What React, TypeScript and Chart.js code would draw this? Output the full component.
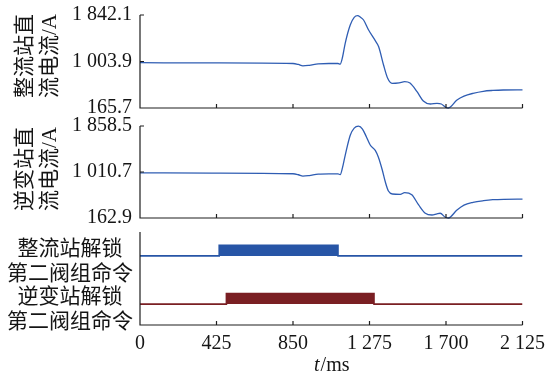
import React, { useEffect, useRef } from "react";
import { Chart, registerables } from "chart.js";

Chart.register(...registerables);

// ---------- data ----------
const xTickValues = [0, 425, 850, 1275, 1700, 2125];

const rectifierTime = [0, 400, 850, 880, 905, 940, 990, 1050, 1100, 1112, 1125, 1140, 1168, 1190, 1209, 1225, 1242, 1270, 1307, 1326, 1353, 1376, 1400, 1440, 1470, 1500, 1539, 1574, 1613, 1650, 1674, 1699, 1713, 1761, 1800, 1850, 1907, 1960, 2018, 2125];
const rectifierCurrent = [982, 978, 968, 950, 925, 935, 960, 968, 968, 955, 1080, 1332, 1662, 1800, 1830, 1800, 1752, 1572, 1379, 1271, 941, 701, 611, 620, 640, 615, 460, 292, 238, 248, 238, 177, 166, 310, 380, 430, 467, 482, 490, 492];
const rectifierTicks = [165.7, 1003.9, 1842.1];

const inverterTime = [0, 400, 850, 880, 905, 940, 990, 1050, 1100, 1112, 1125, 1140, 1168, 1190, 1214, 1236, 1258, 1279, 1307, 1324, 1346, 1363, 1380, 1402, 1446, 1470, 1510, 1548, 1585, 1622, 1650, 1668, 1696, 1713, 1761, 1800, 1850, 1909, 1960, 2020, 2125];
const inverterCurrent = [995, 990, 978, 960, 935, 945, 970, 975, 975, 962, 1090, 1318, 1687, 1820, 1855, 1803, 1656, 1508, 1410, 1287, 1047, 826, 660, 605, 600, 630, 590, 403, 250, 218, 240, 250, 176, 163, 310, 400, 450, 482, 500, 508, 510];
const inverterTicks = [162.9, 1010.7, 1858.5];

const rectifierCmdTime = [0, 440, 440, 1100, 1100, 2125];
const rectifierCmd = [0, 0, 1, 1, 0, 0];
const inverterCmdTime = [0, 480, 480, 1300, 1300, 2125];
const inverterCmd = [0, 0, 1, 1, 0, 0];

const panel1Title = ["整流站直", "流电流/A"];
const panel2Title = ["逆变站直", "流电流/A"];
const cmdLabels = [["逆变站解锁", "第二阀组命令"], ["整流站解锁", "第二阀组命令"]];
const xTitleItalic = "t";
const xTitleRest = "/ms";

// ---------- style ----------
const FONT = "'Liberation Serif', 'Noto Sans CJK SC', serif";
const TEXT = "#151515";
const AXIS = "#1e1e1e";
const CURVE = "#2f5db3";
const BLUE = "#2755a6";
const RED = "#7a1f23";
const RECT_BASE = 7.43;
const INV_BASE = 2.25;
const CMD_H = 1.14;
const LABEL_POS = [1.6, 6.8];

function fmt(v: number, d: number) {
  const s = v.toFixed(d);
  const [i, f] = s.split(".");
  const w = i.replace(/\B(?=(\d{3})+(?!\d))/g, " ");
  return f ? w + "." + f : w;
}

function zeroPad(s: any) {
  s.paddingTop = 0;
  s.paddingBottom = 0;
  s.paddingLeft = 0;
  s.paddingRight = 0;
}

function makeDeco(cfg: { yTicks: number[]; title?: string[]; titleY?: number; xTitle?: boolean }) {
  return {
    id: "deco",
    afterDraw(chart: any) {
      const { ctx, chartArea, scales } = chart;
      const { left, right, top, bottom } = chartArea;
      ctx.save();
      ctx.strokeStyle = AXIS;
      ctx.lineWidth = 1.2;
      ctx.beginPath();
      ctx.moveTo(left, top);
      ctx.lineTo(left, bottom);
      ctx.lineTo(right, bottom);
      for (const v of xTickValues) {
        const px = scales.x.getPixelForValue(v);
        ctx.moveTo(px, bottom);
        ctx.lineTo(px, bottom - 4);
      }
      for (const v of cfg.yTicks) {
        const py = scales.y.getPixelForValue(v);
        ctx.moveTo(left, py);
        ctx.lineTo(left + 4, py);
      }
      ctx.stroke();
      ctx.fillStyle = TEXT;
      if (cfg.title) {
        ctx.font = `21px ${FONT}`;
        ctx.textAlign = "center";
        ctx.textBaseline = "middle";
        cfg.title.forEach((line, i) => {
          ctx.save();
          ctx.translate(25 + i * 25, cfg.titleY as number);
          ctx.rotate(-Math.PI / 2);
          ctx.fillText(line, 0, 0);
          ctx.restore();
        });
      }
      if (cfg.xTitle) {
        const cx = (left + right) / 2;
        const base = bottom + 46;
        ctx.textBaseline = "alphabetic";
        ctx.textAlign = "left";
        ctx.font = `italic 20px ${FONT}`;
        const w1 = ctx.measureText(xTitleItalic).width;
        ctx.font = `20px ${FONT}`;
        const w2 = ctx.measureText(xTitleRest).width;
        const x0 = cx - (w1 + w2) / 2;
        ctx.font = `italic 20px ${FONT}`;
        ctx.fillText(xTitleItalic, x0, base);
        ctx.font = `20px ${FONT}`;
        ctx.fillText(xTitleRest, x0 + w1 + 1, base);
      }
      ctx.restore();
    },
  };
}

function curveConfig(times: number[], values: number[], ticks: number[], title: string[], titleY: number, padTop: number, padBottom: number) {
  return {
    type: "line",
    data: {
      datasets: [
        {
          data: times.map((t, i) => ({ x: t, y: values[i] })),
          borderColor: CURVE,
          borderWidth: 1.3,
          pointRadius: 0,
          cubicInterpolationMode: "monotone",
          fill: false,
          clip: false,
        },
      ],
    },
    options: {
      animation: false,
      responsive: false,
      events: [],
      layout: { padding: { top: padTop, bottom: padBottom, left: 0, right: 25.5 } },
      plugins: { legend: { display: false }, tooltip: { enabled: false } },
      scales: {
        x: { type: "linear", min: 0, max: 2125, display: false },
        y: {
          type: "linear",
          min: ticks[0],
          max: ticks[2],
          afterBuildTicks: (s: any) => {
            s.ticks = ticks.map((v) => ({ value: v }));
          },
          afterFit: (s: any) => {
            s.width = 140;
            zeroPad(s);
          },
          grid: { display: false, drawTicks: false },
          border: { display: false },
          ticks: {
            padding: 8,
            color: TEXT,
            font: { family: FONT, size: 20 },
            callback: (v: number) => fmt(v, 1),
          },
        },
      },
    },
    plugins: [makeDeco({ yTicks: ticks.slice(1), title, titleY })],
  };
}

function cmdConfig() {
  const sig = (times: number[], states: number[], base: number, color: string) => ({
    data: times.map((t, i) => ({ x: t, y: base + states[i] * CMD_H })),
    borderColor: color,
    backgroundColor: color,
    borderWidth: 1.6,
    pointRadius: 0,
    tension: 0,
    fill: { value: base },
    borderJoinStyle: "miter",
  });
  return {
    type: "line",
    data: {
      datasets: [
        sig(rectifierCmdTime, rectifierCmd, RECT_BASE, BLUE),
        sig(inverterCmdTime, inverterCmd, INV_BASE, RED),
      ],
    },
    options: {
      animation: false,
      responsive: false,
      events: [],
      layout: { padding: { top: 15, bottom: 0, left: 0, right: 25.5 } },
      plugins: { legend: { display: false }, tooltip: { enabled: false } },
      scales: {
        x: {
          type: "linear",
          min: 0,
          max: 2125,
          afterBuildTicks: (s: any) => {
            s.ticks = xTickValues.map((v) => ({ value: v }));
          },
          afterFit: (s: any) => {
            s.height = 52;
            zeroPad(s);
          },
          grid: { display: false, drawTicks: false },
          border: { display: false },
          ticks: {
            padding: 7,
            maxRotation: 0,
            autoSkip: false,
            color: TEXT,
            font: { family: FONT, size: 20 },
            callback: (v: number) => fmt(v, 0),
          },
        },
        y: {
          type: "linear",
          min: 0,
          max: 10,
          afterBuildTicks: (s: any) => {
            s.ticks = LABEL_POS.map((v) => ({ value: v }));
          },
          afterFit: (s: any) => {
            s.width = 140;
            zeroPad(s);
          },
          grid: { display: false, drawTicks: false },
          border: { display: false },
          ticks: {
            padding: 7,
            crossAlign: "center",
            color: TEXT,
            font: { family: FONT, size: 21, lineHeight: 1.2 },
            callback: (_v: number, i: number) => cmdLabels[i],
          },
        },
      },
    },
    plugins: [makeDeco({ yTicks: [], xTitle: true })],
  };
}

function ChartCanvas({ top, height, make }: { top: number; height: number; make: () => any }) {
  const ref = useRef<HTMLCanvasElement | null>(null);
  useEffect(() => {
    if (!ref.current) return;
    const chart = new Chart(ref.current, make());
    return () => chart.destroy();
  }, []);
  return (
    <canvas
      ref={ref}
      width={548}
      height={height}
      style={{ position: "absolute", left: 0, top, width: 548, height }}
    />
  );
}

export default function App() {
  return (
    <div style={{ position: "absolute", left: 0, top: 0, width: 548, height: 377, background: "#fff", overflow: "hidden" }}>
      <ChartCanvas top={0} height={120} make={() => curveConfig(rectifierTime, rectifierCurrent, rectifierTicks, panel1Title, 56, 15, 12)} />
      <ChartCanvas top={111} height={119} make={() => curveConfig(inverterTime, inverterCurrent, inverterTicks, panel2Title, 169 - 111, 15, 12)} />
      <ChartCanvas top={217} height={160} make={() => cmdConfig()} />
    </div>
  );
}
